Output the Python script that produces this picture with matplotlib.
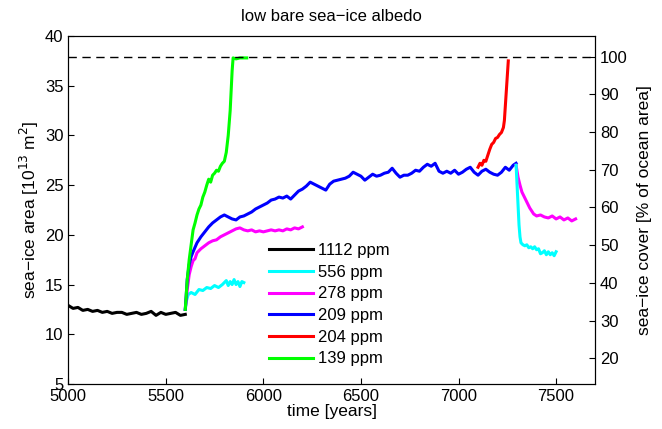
import numpy as np
import matplotlib
matplotlib.use("Agg")
import matplotlib.pyplot as plt

plt.rcParams["font.family"] = ["Liberation Sans", "DejaVu Sans"]

# ocean area that corresponds to 100 % cover [10^13 m^2]
ocean_area = 37.92

# 1112 ppm
t_1112 = np.arange(5000, 5601, 25)
a_1112 = [12.9, 12.6, 12.7, 12.4, 12.5, 12.3, 12.4, 12.2, 12.3, 12.1, 12.2, 12.2, 12.0,
          12.1, 12.2, 12.0, 12.1, 12.3, 11.9, 12.2, 12.0, 12.1, 12.2, 11.9, 12.0]

# 556 ppm
t_556 = [5600, 5605, 5615, 5630, 5650, 5670, 5690, 5710, 5730, 5750, 5770, 5790, 5810,
         5820, 5830, 5840, 5850, 5860, 5870, 5880, 5890, 5900]
a_556 = [12.5, 13.3, 14.0, 14.2, 14.0, 14.5, 14.4, 14.7, 14.6, 14.9, 14.7, 15.0, 15.4,
         14.9, 15.3, 15.0, 15.5, 15.0, 15.3, 14.8, 15.3, 15.2]
t_556b = [7295, 7300, 7305, 7310, 7315, 7320, 7330, 7340, 7350, 7360, 7370, 7380, 7390,
          7400, 7410, 7420, 7430, 7440, 7450, 7460, 7470, 7480, 7490, 7500]
a_556b = [27.0, 25.0, 23.0, 21.0, 19.8, 19.2, 19.0, 18.9, 19.0, 18.7, 18.8, 18.6, 18.8,
          18.5, 18.6, 18.1, 18.2, 18.4, 18.0, 18.3, 18.0, 18.2, 17.9, 18.3]

# 278 ppm
t_278 = [5600, 5610, 5620, 5630, 5640, 5650, 5660, 5680, 5700, 5720, 5740, 5760, 5780,
         5800, 5820, 5840, 5860, 5880, 5900, 5920, 5940, 5960, 5980, 6000, 6020, 6040,
         6060, 6080, 6100, 6120, 6140, 6160, 6180, 6200]
a_278 = [12.5, 14.5, 16.0, 16.8, 17.4, 17.6, 18.2, 18.6, 18.9, 19.2, 19.4, 19.5, 19.8,
         20.0, 20.2, 20.4, 20.6, 20.7, 20.5, 20.4, 20.5, 20.3, 20.4, 20.3, 20.4, 20.5,
         20.4, 20.5, 20.4, 20.6, 20.5, 20.7, 20.6, 20.8]
t_278b = [7295, 7305, 7315, 7325, 7335, 7345, 7355, 7365, 7375, 7385, 7400, 7420, 7440,
          7460, 7480, 7500, 7520, 7540, 7560, 7580, 7600]
a_278b = [27.0, 25.8, 25.0, 24.3, 23.9, 23.5, 23.1, 22.7, 22.4, 22.1, 21.9, 22.0, 21.8,
          21.7, 21.9, 21.6, 21.8, 21.5, 21.7, 21.4, 21.6]

# 209 ppm
t_209 = [5600, 5610, 5620, 5630, 5640, 5660, 5680, 5700, 5720, 5740, 5760, 5780, 5800,
         5820, 5840, 5860, 5880, 5900, 5920, 5940, 5960, 5980, 6000, 6020, 6040, 6060,
         6080, 6100, 6120, 6140, 6160, 6180, 6200, 6220, 6240, 6260, 6280, 6300, 6320,
         6340, 6360, 6380, 6400, 6420, 6440, 6460, 6480, 6500, 6520, 6540, 6560, 6580,
         6600, 6620, 6640, 6660, 6680, 6700, 6720, 6740, 6760, 6780, 6800, 6820, 6840,
         6860, 6880, 6900, 6920, 6940, 6960, 6980, 7000, 7020, 7040, 7060, 7080, 7100,
         7120, 7140, 7160, 7180, 7200, 7220, 7240, 7260, 7280, 7295]
a_209 = [12.5, 15.5, 17.0, 17.8, 18.3, 19.2, 19.8, 20.3, 20.8, 21.2, 21.5, 21.8, 22.0,
         21.8, 21.6, 21.5, 21.8, 21.9, 22.1, 22.3, 22.6, 22.8, 23.0, 23.2, 23.5, 23.6,
         23.8, 23.7, 23.9, 23.6, 24.0, 24.4, 24.6, 24.9, 25.3, 25.1, 24.9, 24.7, 24.5,
         25.1, 25.4, 25.5, 25.6, 25.7, 25.9, 26.3, 26.1, 25.9, 25.5, 25.8, 26.1, 25.9,
         26.0, 26.2, 26.3, 26.7, 26.2, 25.8, 26.0, 26.0, 26.2, 26.5, 26.4, 26.8, 27.1,
         26.9, 27.2, 26.4, 26.2, 26.4, 26.2, 26.5, 26.1, 26.3, 26.6, 26.8, 26.3, 26.0,
         26.4, 26.6, 26.3, 26.1, 26.0, 26.3, 26.8, 26.5, 27.0, 27.2]

# 204 ppm
t_204 = [7100, 7110, 7120, 7130, 7140, 7150, 7160, 7170, 7180, 7190, 7200, 7210, 7220,
         7230, 7235, 7240, 7245, 7250, 7255]
a_204 = [26.8, 27.2, 27.0, 27.5, 27.4, 28.0, 28.6, 29.1, 29.3, 29.7, 29.8, 30.1, 30.3,
         30.8, 31.5, 33.0, 34.5, 36.0, 37.5]

# 139 ppm
t_139 = [5600, 5610, 5620, 5630, 5640, 5650, 5660, 5670, 5680, 5690, 5700, 5710, 5720,
         5730, 5740, 5750, 5760, 5770, 5780, 5790, 5800, 5810, 5820, 5830, 5835, 5840,
         5845, 5860, 5880, 5900, 5915]
a_139 = [12.5, 15.5, 17.5, 19.0, 20.5, 21.2, 22.0, 22.6, 23.0, 23.8, 24.3, 25.0, 25.6,
         25.3, 26.0, 26.2, 26.5, 26.4, 26.9, 27.2, 27.4, 28.3, 30.0, 32.5, 34.5, 36.5,
         37.8, 37.7, 37.8, 37.8, 37.8]

fig = plt.figure(figsize=(6.62, 4.29), dpi=100)
ax = fig.add_axes([0.103, 0.105, 0.796, 0.811])

lw = 2.2
ax.plot(t_1112, a_1112, color="black", lw=lw, label="1112 ppm")
ax.plot(t_556, a_556, color="cyan", lw=lw, label="556 ppm")
ax.plot(t_278, a_278, color="magenta", lw=lw, label="278 ppm")
ax.plot(t_209, a_209, color="blue", lw=lw, label="209 ppm")
ax.plot(t_204, a_204, color="red", lw=lw, label="204 ppm")
ax.plot(t_139, a_139, color="#00ff00", lw=lw, label="139 ppm")
ax.plot(t_278b, a_278b, color="magenta", lw=lw)
ax.plot(t_556b, a_556b, color="cyan", lw=lw)
ax.axhline(ocean_area, color="black", lw=1.0, ls=(0, (6, 4)))

ax.set_xlim(5000, 7700)
ax.set_ylim(5, 40)
ax.set_xticks(np.arange(5000, 7501, 500))
ax.set_yticks(np.arange(5, 41, 5))
ax.tick_params(direction="in", length=4, labelsize=12, top=False, right=False)
ax.set_xlabel("time [years]", fontsize=12.5, labelpad=0)
ax.set_ylabel("sea\u2212ice area [10$^{13}$ m$^2$]", fontsize=12.5, labelpad=3)
ax.set_title("low bare sea\u2212ice albedo", fontsize=12, pad=11)

ax2 = ax.twinx()
ax2.set_ylim(5 / ocean_area * 100, 40 / ocean_area * 100)
ax2.set_yticks(np.arange(20, 101, 10))
ax2.tick_params(direction="in", length=4, labelsize=12)
ax2.set_ylabel("sea\u2212ice cover [% of ocean area]", fontsize=12.5, labelpad=7)

ax.legend(loc="upper left", bbox_to_anchor=(0.381, 0.405), frameon=False, fontsize=12,
          handlelength=2.64, handletextpad=0.3, labelspacing=0.4, borderpad=0,
          borderaxespad=0)

fig.savefig("out.png", dpi=100)
